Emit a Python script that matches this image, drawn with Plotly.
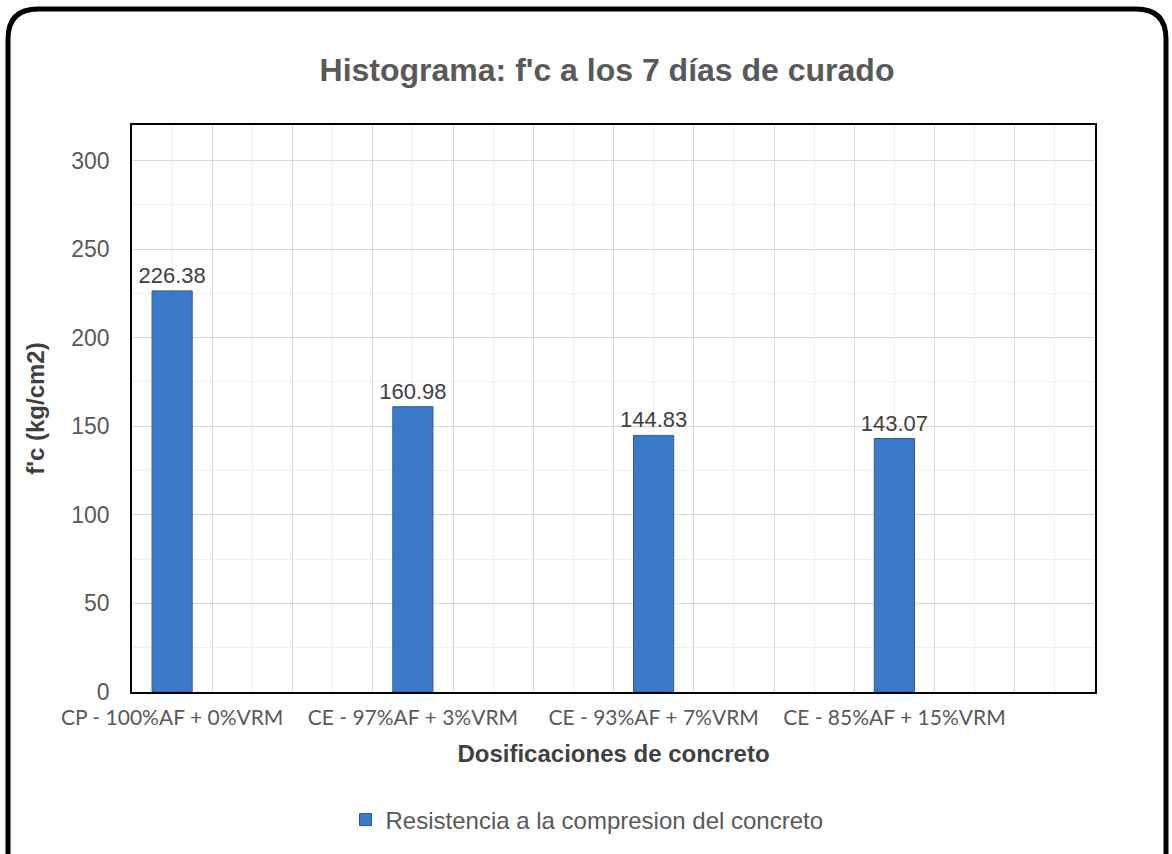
import plotly.graph_objects as go

# ---- data ----
categories = ["CP - 100%AF + 0%VRM", "CE - 97%AF + 3%VRM",
              "CE - 93%AF + 7%VRM", "CE - 85%AF + 15%VRM"]
values = [226.38, 160.98, 144.83, 143.07]
series_name = "Resistencia a la compresion del concreto"
title_text = "Histograma: f'c a los 7 días de curado"
x_title = "Dosificaciones de concreto"
y_title = "f'c (kg/cm2)"
y_ticks = [0, 50, 100, 150, 200, 250, 300]

# category slots on a 24-unit grid (6 units per category, bar at start of slot)
slot = 6
positions = [1 + slot * i for i in range(len(categories))]
x_max = slot * len(categories)

W, H = 1172, 854
L, R, T, B = 132, 1095, 125, 692


def px(xp):
    return (xp - L) / (R - L)


def py(yp):
    return (B - yp) / (B - T)


fig = go.Figure()
fig.add_trace(go.Bar(
    x=positions, y=values, width=1.0, name=series_name,
    marker=dict(color="#3b79c9", line=dict(color="#2c5a96", width=1)),
    text=[f"{v:.2f}" for v in values], textposition="outside",
    constraintext="none",
    textfont=dict(family="Arial", size=22, color="#404040"),
    cliponaxis=False, xaxis="x", yaxis="y",
))
# label axis carrier (no visible marks)
fig.add_trace(go.Scatter(x=[None], y=[None], xaxis="x2", yaxis="y",
                         showlegend=False, hoverinfo="skip"))

# rounded outer frame
x0, x1, y0, y1 = px(8), px(1166), py(9), py(900)
rx = 30 / (R - L)
ry = 30 / (B - T)
path = (f"M {x0+rx},{y0} L {x1-rx},{y0} Q {x1},{y0} {x1},{y0-ry} "
        f"L {x1},{y1+ry} Q {x1},{y1} {x1-rx},{y1} L {x0+rx},{y1} "
        f"Q {x0},{y1} {x0},{y1+ry} L {x0},{y0-ry} Q {x0},{y0} {x0+rx},{y0} Z")

fig.update_layout(
    width=W, height=H,
    margin=dict(l=L, r=W - R, t=T, b=H - B),
    paper_bgcolor="white", plot_bgcolor="white",
    title=dict(text=f"<b>{title_text}</b>", x=607 / W,
               xanchor="center", y=1 - 70 / H, yanchor="middle",
               font=dict(family="Arial", size=32, color="#595959")),
    xaxis=dict(range=[0, x_max], dtick=2, tick0=0, showticklabels=False,
               showgrid=True, gridcolor="#d9d9d9", gridwidth=1,
               minor=dict(dtick=1, tick0=0, showgrid=True, gridcolor="#eeeeee"),
               showline=True, linecolor="black", linewidth=2, mirror=True,
               zeroline=False, ticks=""),
    xaxis2=dict(overlaying="x", range=[0, x_max], tickmode="array",
                tickvals=positions, ticktext=categories, showgrid=False,
                zeroline=False, ticks="", side="bottom", ticklabelstandoff=11,
                tickfont=dict(family="Lato", size=21, color="#595959"),
                title=dict(text=f"<b>{x_title}</b>", standoff=17,
                           font=dict(family="Arial", size=24, color="#404040"))),
    yaxis=dict(range=[0, 320], tickvals=y_ticks, showgrid=True,
               gridcolor="#d9d9d9", gridwidth=1,
               minor=dict(dtick=25, tick0=0, showgrid=True, gridcolor="#eeeeee"),
               showline=True, linecolor="black", linewidth=1.5, mirror=True,
               zeroline=False, ticks="", ticklabelstandoff=16,
               tickfont=dict(family="Arial", size=23, color="#595959"),
               title=dict(text=f"<b>{y_title}</b>", standoff=20,
                          font=dict(family="Arial", size=24, color="#404040"))),
    legend=dict(orientation="h", x=px(587), xanchor="center", y=py(820),
                yanchor="middle", font=dict(family="Arial", size=24, color="#595959"),
                bgcolor="rgba(0,0,0,0)"),
    showlegend=True,
    shapes=[dict(type="path", xref="paper", yref="paper", path=path,
                 line=dict(color="black", width=5), fillcolor="rgba(0,0,0,0)",
                 layer="above")],
)

fig.write_html("out.html",
               config={"displayModeBar": False},
               post_script="document.body.style.margin='0';")
